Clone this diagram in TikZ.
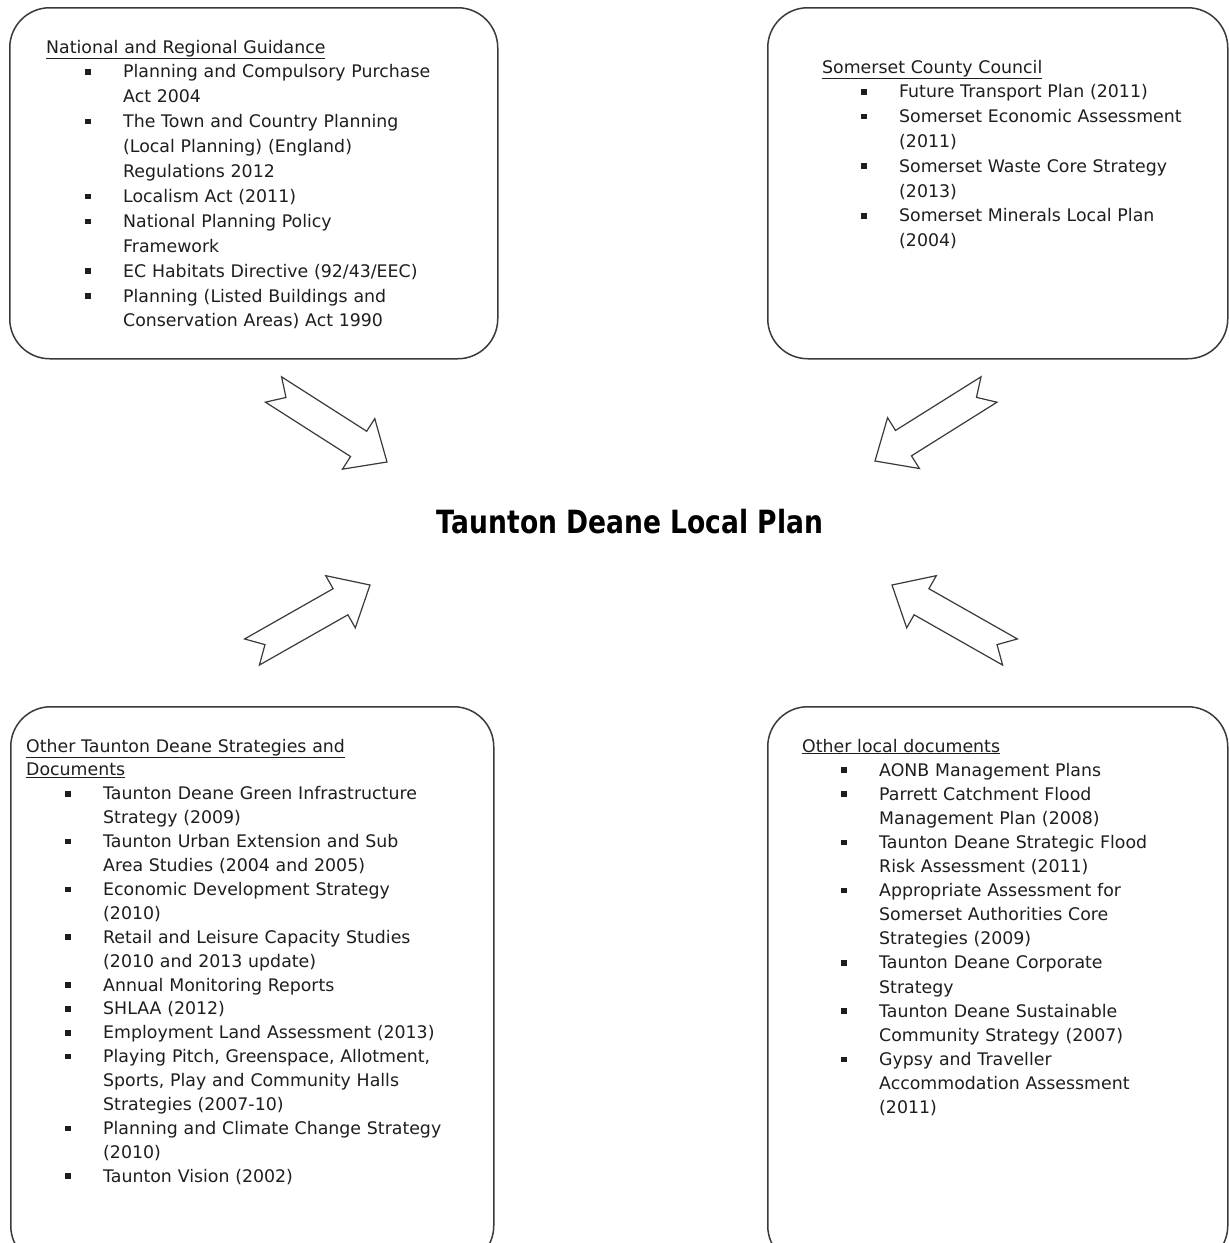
\documentclass[tikz,border=0pt]{standalone}
\usepackage{fontspec}
\setmainfont{DejaVu Sans}
\usepackage{graphicx}
\usetikzlibrary{calc}
\setlength\parskip{0pt}
\setlength\parindent{0pt}
\newcommand\sqb{\rule[3.3pt]{5.5pt}{5.5pt}}
\newcommand\nl{\hfill\break}
\newcommand\itm[1]{\par\noindent\hangindent=77pt\hangafter=1\hspace*{39pt}\makebox[38pt][l]{\sqb}#1}
\newcommand\blockarrow[2]{%
  \draw[bigarrow] ($(#1)!15pt!90:(#2)$)
    -- ($(#1)!0.75!(#2)!15pt!90:(#2)$)
    -- ($(#1)!0.75!(#2)!30pt!90:(#2)$)
    -- (#2)
    -- ($(#1)!0.75!(#2)!30pt!-90:(#2)$)
    -- ($(#1)!0.75!(#2)!15pt!-90:(#2)$)
    -- ($(#1)!15pt!-90:(#2)$)
    -- ($(#1)!0.11!(#2)$) -- cycle;}
\definecolor{linegray}{HTML}{3A3A3A}
\definecolor{txtgray}{HTML}{1E1E1E}
\begin{document}
\begin{tikzpicture}[x=1pt,y=-1pt,
  frame/.style={draw=linegray, line width=1.5pt, rounded corners=40pt, anchor=north west, inner sep=0pt},
  boxtext/.style={anchor=base west, inner sep=0pt, text width=460pt, text=txtgray},
  bigarrow/.style={draw=linegray, line width=1.2pt, fill=white, line join=miter},
  title/.style={anchor=base, inner sep=0pt, text=black}]
\useasboundingbox (0,0) rectangle (1229,1243);
\clip (0,0) rectangle (1229,1243);
\fill[white] (0,0) rectangle (1229,1243);

% boxes
\node[frame, minimum width=488pt, minimum height=351pt] (natbox) at (9,7) {};
\node[frame, minimum width=460pt, minimum height=351pt] (sccbox) at (767,7) {};
\node[frame, minimum width=483pt, minimum height=559pt] (tdbox) at (10,706) {};
\node[frame, minimum width=460pt, minimum height=559pt] (locbox) at (767,706) {};

% texts
\node[boxtext, font=\fontsize{17.35pt}{24.9pt}\selectfont\raggedright] (nattext) at (46,53) {%
\underline{National and Regional Guidance}
\itm{Planning and Compulsory Purchase\nl Act 2004}
\itm{The Town and Country Planning\nl (Local Planning) (England)\nl Regulations 2012}
\itm{Localism Act (2011)}
\itm{National Planning Policy\nl Framework}
\itm{EC Habitats Directive (92/43/EEC)}
\itm{Planning (Listed Buildings and\nl Conservation Areas) Act 1990}\par};

\node[boxtext, font=\fontsize{17.35pt}{24.8pt}\selectfont\raggedright] (scctext) at (822,73) {%
\underline{Somerset County Council}
\itm{Future Transport Plan (2011)}
\itm{Somerset Economic Assessment\nl (2011)}
\itm{Somerset Waste Core Strategy\nl (2013)}
\itm{Somerset Minerals Local Plan\nl (2004)}\par};

\node[boxtext, font=\fontsize{17.35pt}{23.9pt}\selectfont\raggedright] (tdtext) at (26,752) {%
\underline{Other Taunton Deane Strategies and}\nl\underline{Documents}
\itm{Taunton Deane Green Infrastructure\nl Strategy (2009)}
\itm{Taunton Urban Extension and Sub\nl Area Studies (2004 and 2005)}
\itm{Economic Development Strategy\nl (2010)}
\itm{Retail and Leisure Capacity Studies\nl (2010 and 2013 update)}
\itm{Annual Monitoring Reports}
\itm{SHLAA (2012)}
\itm{Employment Land Assessment (2013)}
\itm{Playing Pitch, Greenspace, Allotment,\nl Sports, Play and Community Halls\nl Strategies (2007-10)}
\itm{Planning and Climate Change Strategy\nl (2010)}
\itm{Taunton Vision (2002)}\par};

\node[boxtext, font=\fontsize{17.35pt}{24.1pt}\selectfont\raggedright] (loctext) at (802,752) {%
\underline{Other local documents}
\itm{AONB Management Plans}
\itm{Parrett Catchment Flood\nl Management Plan (2008)}
\itm{Taunton Deane Strategic Flood\nl Risk Assessment (2011)}
\itm{Appropriate Assessment for\nl Somerset Authorities Core\nl Strategies (2009)}
\itm{Taunton Deane Corporate\nl Strategy}
\itm{Taunton Deane Sustainable\nl Community Strategy (2007)}
\itm{Gypsy and Traveller\nl Accommodation Assessment\nl (2011)}\par};

% title
\node[title] (plan) at (630,533) {\scalebox{0.83}[1]{\fontsize{32pt}{36pt}\selectfont\bfseries Taunton Deane Local Plan}};

% arrows
\coordinate (a1s) at (273.5,389.5); \coordinate (a1e) at (387,462);
\coordinate (a2s) at (989,389.5);   \coordinate (a2e) at (875,461);
\coordinate (a3s) at (252,652);     \coordinate (a3e) at (370,585);
\coordinate (a4s) at (1010,652);    \coordinate (a4e) at (892,585);
\blockarrow{a1s}{a1e}
\blockarrow{a2s}{a2e}
\blockarrow{a3s}{a3e}
\blockarrow{a4s}{a4e}
\end{tikzpicture}
\end{document}
